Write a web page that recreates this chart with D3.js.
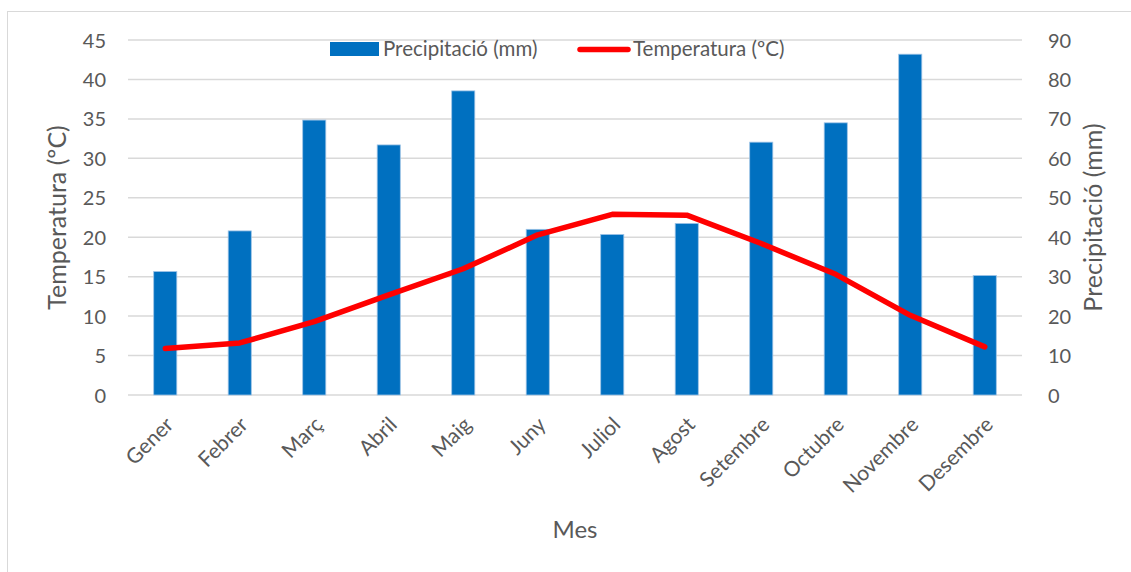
<!DOCTYPE html>
<html>
<head>
<meta charset="utf-8">
<script src="https://cdn.jsdelivr.net/npm/d3@7"></script>
<style>
  html, body { margin: 0; padding: 0; background: #fff; }
  svg { display: block; }
  text { font-family: Lato, "Open Sans", sans-serif; fill: #595959; }
</style>
</head>
<body>
<svg id="chart" width="1131" height="572"></svg>
<script>
// Monthly climate data
const months = ["Gener", "Febrer", "Març", "Abril", "Maig", "Juny", "Juliol", "Agost", "Setembre", "Octubre", "Novembre", "Desembre"];
const precipitation = [31.3, 41.6, 69.7, 63.4, 77.1, 42.0, 40.7, 43.5, 64.1, 69.0, 86.4, 30.3];
const temperature = [5.9, 6.6, 9.3, 12.7, 16.0, 20.3, 22.9, 22.8, 19.2, 15.3, 10.1, 6.1];
const tempTicks = [0, 5, 10, 15, 20, 25, 30, 35, 40, 45];
const precipTicks = [0, 10, 20, 30, 40, 50, 60, 70, 80, 90];

const svg = d3.select("#chart");
const margin = { left: 128, right: 1022, top: 40, bottom: 395 };
const FONT = "Lato, 'Open Sans', sans-serif";

// chart frame
svg.append("rect")
  .attr("x", 7.5).attr("y", 11.5)
  .attr("width", 1140).attr("height", 575)
  .attr("fill", "none").attr("stroke", "#d9d9d9").attr("stroke-width", 1);

const x = d3.scaleBand().domain(months).range([margin.left, margin.right]).paddingInner(0.69).paddingOuter(0.345);
const xc = d3.scalePoint().domain(months).range([margin.left, margin.right]).padding(0.5);
const yT = d3.scaleLinear().domain([0, 45]).range([margin.bottom, margin.top]);
const yP = d3.scaleLinear().domain([0, 90]).range([margin.bottom, margin.top]);

// gridlines
svg.append("g").selectAll("line").data(tempTicks).join("line")
  .attr("x1", margin.left).attr("x2", margin.right)
  .attr("y1", d => yT(d)).attr("y2", d => yT(d))
  .attr("stroke", "#d9d9d9").attr("stroke-width", 1.5);

// left axis labels
const leftAxis = svg.append("g").attr("transform", `translate(${margin.left - 22},0)`)
  .call(d3.axisLeft(yT).tickValues(tempTicks).tickSize(0).tickPadding(0));
leftAxis.select(".domain").remove();
leftAxis.selectAll("text").attr("font-size", 20).attr("dy", "0.35em").style("fill", "#595959")
  .attr("font-family", FONT);

// right axis labels
const rightAxis = svg.append("g").attr("transform", `translate(${margin.right + 26},0)`)
  .call(d3.axisRight(yP).tickValues(precipTicks).tickSize(0).tickPadding(0));
rightAxis.select(".domain").remove();
rightAxis.selectAll("text").attr("font-size", 20).attr("dy", "0.35em").style("fill", "#595959")
  .attr("font-family", FONT);

// precipitation bars
svg.append("g").selectAll("rect").data(months).join("rect")
  .attr("x", d => x(d)).attr("width", x.bandwidth())
  .attr("y", (d, i) => yP(precipitation[i]))
  .attr("height", (d, i) => yP(0) - yP(precipitation[i]))
  .attr("fill", "#0070C0").attr("stroke", "#9dc3e6").attr("stroke-width", 0.8);

// temperature line
const line = d3.line().x((d, i) => xc(months[i])).y(d => yT(d));
svg.append("path").datum(temperature)
  .attr("d", line).attr("fill", "none")
  .attr("stroke", "#ff0000").attr("stroke-width", 5.5)
  .attr("stroke-linejoin", "round").attr("stroke-linecap", "round");

// month labels
const bottomAxis = svg.append("g").attr("transform", `translate(0,${margin.bottom})`)
  .call(d3.axisBottom(xc).tickSize(0).tickPadding(0));
bottomAxis.select(".domain").remove();
bottomAxis.selectAll("text")
  .attr("font-size", 21).attr("font-family", FONT).style("fill", "#595959")
  .attr("text-anchor", "end").attr("dy", 0)
  .attr("transform", "translate(9,31) rotate(-45)");

// axis titles
svg.append("text").attr("transform", `translate(66,${(margin.top + margin.bottom) / 2}) rotate(-90)`)
  .attr("text-anchor", "middle").attr("font-size", 25).text("Temperatura (ºC)");
svg.append("text").attr("transform", `translate(1102,${(margin.top + margin.bottom) / 2}) rotate(-90)`)
  .attr("text-anchor", "middle").attr("font-size", 25).text("Precipitació (mm)");
svg.append("text").attr("x", 575).attr("y", 538).attr("text-anchor", "middle")
  .attr("font-size", 24).text("Mes");

// legend
const legend = svg.append("g");
legend.append("rect").attr("x", 330).attr("y", 42).attr("width", 49).attr("height", 14).attr("fill", "#0070C0");
legend.append("text").attr("x", 383).attr("y", 56).attr("font-size", 20.5).text("Precipitació (mm)");
legend.append("line").attr("x1", 580).attr("x2", 628).attr("y1", 49.5).attr("y2", 49.5)
  .attr("stroke", "#ff0000").attr("stroke-width", 5.5).attr("stroke-linecap", "round");
legend.append("text").attr("x", 633).attr("y", 56).attr("font-size", 20.5).text("Temperatura (ºC)");
</script>
</body>
</html>
